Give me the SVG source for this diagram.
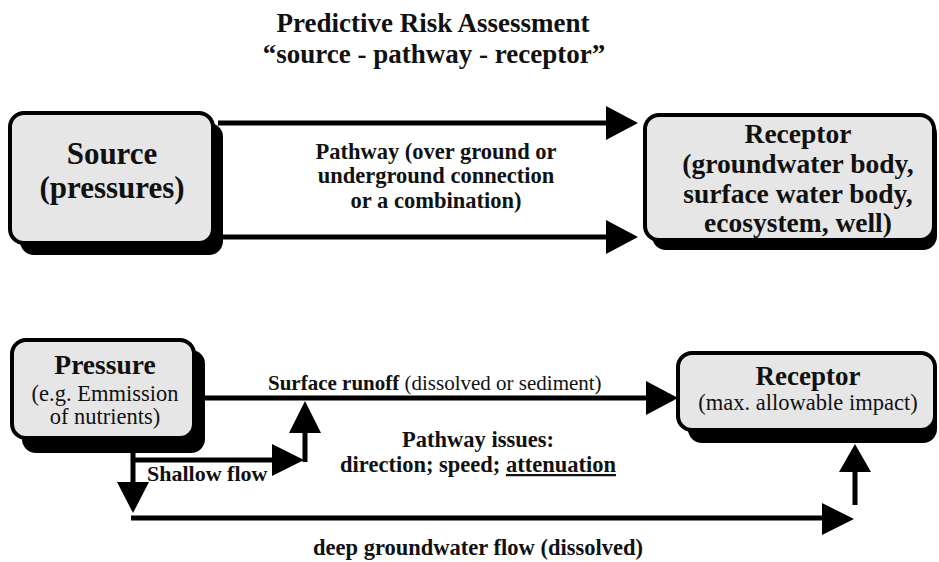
<svg xmlns="http://www.w3.org/2000/svg" width="939" height="562" viewBox="0 0 939 562" font-family="'Liberation Serif', 'DejaVu Serif', serif">
<defs>
<style>
text{font-family:'Liberation Serif','DejaVu Serif',serif;fill:#111;}
.b{font-weight:bold;}
.box{fill:#e6e6e6;stroke:#000;stroke-width:4;}
.shadow{fill:#000;}
.ln{stroke:#000;stroke-width:5;fill:none;}
.hd{fill:#000;}
</style>
</defs>
<rect width="939" height="562" fill="#fff"/>
<g id="title">
<text class="b" x="433" y="32" font-size="27" text-anchor="middle">Predictive Risk Assessment</text>
<text class="b" x="434" y="63" font-size="27" text-anchor="middle">“source - pathway - receptor”</text>
</g>
<g id="connectors">
<line class="ln" x1="218" y1="123" x2="610" y2="123"/>
<polygon class="hd" points="606,106 638,123 606,140"/>
<line class="ln" x1="218" y1="237" x2="610" y2="237"/>
<polygon class="hd" points="606,220 638,237 606,254"/>
<line class="ln" x1="200" y1="398" x2="650" y2="398"/>
<polygon class="hd" points="646,381 678,398 646,415"/>
<line class="ln" x1="133" y1="450" x2="133" y2="486"/>
<polygon class="hd" points="117,482 149,482 133,513"/>
<line class="ln" x1="131" y1="460" x2="276" y2="460"/>
<polygon class="hd" points="272,444 304,460 272,476"/>
<line class="ln" x1="305" y1="462" x2="305" y2="430"/>
<polygon class="hd" points="289,433 321,433 305,401"/>
<line class="ln" x1="131" y1="518" x2="826" y2="518"/>
<polygon class="hd" points="822,503 854,519 822,535"/>
<line class="ln" x1="855" y1="505" x2="855" y2="468"/>
<polygon class="hd" points="839,472 871,472 855,444"/>
</g>
<g id="source">
<rect class="shadow" x="20" y="123" width="203" height="132" rx="14"/>
<rect class="box" x="10" y="113" width="203" height="130" rx="14"/>
<text class="b" x="112" y="164" font-size="31" text-anchor="middle">Source</text>
<text class="b" x="112" y="198" font-size="31" text-anchor="middle">(pressures)</text>
</g>
<g id="pathway-label">
<text class="b" x="436" y="159" font-size="22.5" text-anchor="middle">Pathway (over ground or</text>
<text class="b" x="436" y="183" font-size="22.5" text-anchor="middle">underground connection</text>
<text class="b" x="436" y="208" font-size="22.5" text-anchor="middle">or a combination)</text>
</g>
<g id="receptor-top">
<rect class="shadow" x="652" y="120" width="285" height="130" rx="14"/>
<rect class="box" x="645" y="115" width="289" height="125" rx="14"/>
<text class="b" x="798" y="143" font-size="27.5" text-anchor="middle">Receptor</text>
<text class="b" x="798" y="173" font-size="27.5" text-anchor="middle">(groundwater body,</text>
<text class="b" x="798" y="203" font-size="27.5" text-anchor="middle">surface water body,</text>
<text class="b" x="798" y="232" font-size="27.5" text-anchor="middle">ecosystem, well)</text>
</g>
<g id="pressure">
<rect class="shadow" x="22" y="350" width="183" height="103" rx="14"/>
<rect class="box" x="12" y="340" width="182" height="98" rx="14"/>
<text class="b" x="105" y="374" font-size="27.5" text-anchor="middle">Pressure</text>
<text x="105" y="401" font-size="22.5" text-anchor="middle">(e.g. Emmission</text>
<text x="105" y="424" font-size="22.5" text-anchor="middle">of nutrients)</text>
</g>
<g id="receptor-bottom">
<rect class="shadow" x="688" y="360" width="249" height="83" rx="14"/>
<rect class="box" x="678" y="353" width="257" height="77" rx="14"/>
<text class="b" x="808" y="385" font-size="27" text-anchor="middle">Receptor</text>
<text x="808" y="410" font-size="22.5" text-anchor="middle">(max. allowable impact)</text>
</g>
<g id="labels">
<text x="268" y="390" font-size="21"><tspan class="b">Surface runoff</tspan> (dissolved or sediment)</text>
<text class="b" x="147" y="481" font-size="22">Shallow flow</text>
<text class="b" x="478" y="447" font-size="22.5" text-anchor="middle">Pathway issues:</text>
<text class="b" x="478" y="472" font-size="22.5" text-anchor="middle">direction; speed; <tspan text-decoration="underline">attenuation</tspan></text>
<text class="b" x="478" y="555" font-size="22.5" text-anchor="middle">deep groundwater flow (dissolved)</text>
</g>
</svg>
